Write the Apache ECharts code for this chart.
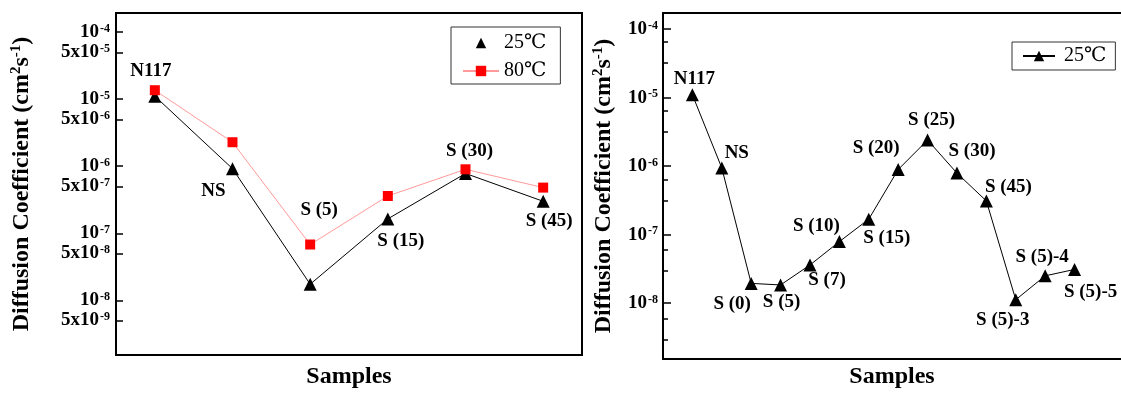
<!DOCTYPE html>
<html>
<head>
<meta charset="utf-8">
<script src="https://cdn.jsdelivr.net/npm/echarts@6/dist/echarts.min.js"></script>
<style>
html,body{margin:0;padding:0;background:#fff;}
#c{width:1121px;height:394px;}
</style>
</head>
<body>
<div id="c"></div>
<script>
// ---------------- DATA ----------------
const leftCategories = ['N117', 'NS', 'S (5)', 'S (15)', 'S (30)', 'S (45)'];
const left25C = [1.11e-5, 9.2e-7, 1.74e-8, 1.64e-7, 7.8e-7, 3.0e-7];
const left80C = [1.36e-5, 2.28e-6, 6.8e-8, 3.6e-7, 9.0e-7, 4.8e-7];

const rightCategories = ['N117', 'NS', 'S (0)', 'S (5)', 'S (7)', 'S (10)', 'S (15)', 'S (20)', 'S (25)', 'S (30)', 'S (45)', 'S (5)-3', 'S (5)-4', 'S (5)-5'];
const right25C = [1.1e-5, 9.4e-7, 1.94e-8, 1.84e-8, 3.6e-8, 7.9e-8, 1.68e-7, 8.9e-7, 2.4e-6, 7.9e-7, 3.1e-7, 1.12e-8, 2.5e-8, 3.1e-8];

const leftTickLabels = [1e-4, 5e-5, 1e-5, 5e-6, 1e-6, 5e-7, 1e-7, 5e-8, 1e-8, 5e-9];
const rightTickLabels = [1e-4, 1e-5, 1e-6, 1e-7, 1e-8];
const rightMinorTicks = [6.67e-5, 3.33e-5, 6.67e-6, 3.33e-6, 6.67e-7, 3.33e-7, 6.67e-8, 3.33e-8, 6.67e-9, 3.33e-9];
const legendNames = ['25℃', '80℃'];
const axisTitleY = 'Diffusion Coefficient (cm{sup|2}s{sup|-1})';
const axisTitleX = 'Samples';

// ---------------- LAYOUT / STYLE ----------------
const SERIF = '"Liberation Serif", "Times New Roman", "DejaVu Serif", serif';
const leftLabelOffsets = [[-4, -25], [-19, 22], [9, -74], [13, 22], [4, -22], [6, 20]];
const rightLabelOffsets = [[2, -16], [15, -15], [-19, 21], [1, 17], [17, 15], [-23, -16], [18, 19], [-22, -21], [4, -20], [15, -22], [22, -14], [-13, 20], [-3, -19], [16, 23]];

const lg = v => Math.log10(v);

function tickFormatter(v) {
  const e = Math.floor(v + 1e-6);
  const m = Math.round(Math.pow(10, v - e));
  const base = m === 1 ? '10' : m + 'x10';
  return '{b|' + base + '}{s|' + e + '}';
}
const tickRich = {
  b: { fontSize: 19, fontWeight: 'bold', fontFamily: SERIF, color: '#000' },
  s: { fontSize: 12, fontWeight: 'bold', fontFamily: SERIF, color: '#000', verticalAlign: 'top', padding: [0, 0, 6, 1] }
};
const nameRich = {
  sup: { fontSize: 15, fontWeight: 'bold', fontFamily: SERIF, color: '#000', padding: [0, 0, 10, 0] }
};
const nameStyle = { fontSize: 24, fontWeight: 'bold', fontFamily: SERIF, color: '#000', rich: nameRich };
const labelStyleBase = { show: true, position: 'inside', fontSize: 19, fontWeight: 'bold', fontFamily: SERIF, color: '#000' };

function labelledData(values, cats, offsets, withIndex) {
  return values.map((v, i) => ({
    value: withIndex ? [i + 1, lg(v)] : lg(v),
    name: cats[i],
    label: Object.assign({}, labelStyleBase, { offset: offsets[i], formatter: cats[i] })
  }));
}

const chart = echarts.init(document.getElementById('c'), null, { renderer: 'canvas' });

const frameLine = { show: true, lineStyle: { color: '#000', width: 2 } };
const hiddenAxis = { axisLine: { show: false }, axisTick: { show: false }, axisLabel: { show: false }, splitLine: { show: false } };

const option = {
  backgroundColor: '#fff',
  animation: false,
  grid: [
    { left: 116, top: 13, width: 466, height: 345.5, show: true, borderColor: '#000', borderWidth: 2, backgroundColor: 'transparent' },
    { left: 663, top: 13, right: 0, height: 350, show: false },
    { left: 663, top: 13, right: 0, height: 350, show: false }
  ],
  xAxis: [
    Object.assign({
      type: 'category', gridIndex: 0, data: leftCategories, boundaryGap: true,
      name: axisTitleX, nameLocation: 'middle', nameGap: 10, nameTextStyle: nameStyle
    }, hiddenAxis, { axisLine: frameLine }),
    Object.assign({
      type: 'value', gridIndex: 1, min: 0, max: 15.58, position: 'bottom',
      name: axisTitleX, nameLocation: 'middle', nameGap: 6, nameTextStyle: nameStyle
    }, hiddenAxis, { axisLine: frameLine }),
    Object.assign({ type: 'value', gridIndex: 1, min: 0, max: 15.58, position: 'top' }, hiddenAxis, { axisLine: frameLine }),
    Object.assign({ type: 'value', gridIndex: 2, min: 0, max: 15.58 }, hiddenAxis)
  ],
  yAxis: [
    {
      type: 'value', gridIndex: 0, min: -8.815, max: -3.715,
      axisLine: frameLine,
      axisTick: { show: true, inside: true, length: 7, lineStyle: { color: '#000', width: 1.5 }, customValues: leftTickLabels.map(lg) },
      axisLabel: { show: true, margin: 6, customValues: leftTickLabels.map(lg), formatter: tickFormatter, rich: tickRich },
      splitLine: { show: false },
      name: axisTitleY, nameLocation: 'middle', nameRotate: 90, nameGap: 82, nameTextStyle: nameStyle
    },
    {
      type: 'value', gridIndex: 1, min: -8.816, max: -3.765, position: 'left',
      axisLine: frameLine,
      axisTick: { show: true, inside: true, length: 8, lineStyle: { color: '#000', width: 1.5 }, customValues: rightTickLabels.map(lg) },
      axisLabel: { show: true, margin: 5, customValues: rightTickLabels.map(lg), formatter: tickFormatter, rich: tickRich },
      splitLine: { show: false },
      name: axisTitleY, nameLocation: 'middle', nameRotate: 90, nameGap: 47, nameTextStyle: nameStyle
    },
    {
      type: 'value', gridIndex: 2, min: -8.816, max: -3.765, position: 'left',
      axisLine: { show: false },
      axisTick: { show: true, inside: true, length: 5, lineStyle: { color: '#000', width: 1.5 }, customValues: rightMinorTicks.map(lg) },
      axisLabel: { show: false },
      splitLine: { show: false }
    }
  ],
  legend: [
    {
      orient: 'vertical', left: 451, top: 27,
      padding: [6, 14, 3, 11], itemGap: 8, itemWidth: 36, itemHeight: 13,
      borderColor: '#333', borderWidth: 1, backgroundColor: '#fff',
      selectedMode: false,
      textStyle: { fontSize: 20, fontFamily: SERIF, color: '#000' },
      data: [
        { name: legendNames[0], lineStyle: { opacity: 0 } },
        { name: legendNames[1] }
      ]
    },
    {
      orient: 'vertical', left: 1012, top: 42,
      padding: [4, 9, 4, 10], itemWidth: 32, itemHeight: 13,
      borderColor: '#333', borderWidth: 1, backgroundColor: '#fff',
      selectedMode: false,
      textStyle: { fontSize: 20, fontFamily: SERIF, color: '#000', padding: [0, 0, 0, 4] },
      data: [legendNames[0]]
    }
  ],
  series: [
    {
      name: legendNames[0], type: 'line', xAxisIndex: 0, yAxisIndex: 0,
      symbol: 'triangle', symbolSize: 13,
      itemStyle: { color: '#000' }, lineStyle: { color: '#000', width: 1 },
      data: labelledData(left25C, leftCategories, leftLabelOffsets, false),
      z: 2
    },
    {
      name: legendNames[1], type: 'line', xAxisIndex: 0, yAxisIndex: 0,
      symbol: 'rect', symbolSize: 10,
      itemStyle: { color: '#ff0000' }, lineStyle: { color: '#ff9a9a', width: 1 },
      data: left80C.map(lg),
      z: 3
    },
    {
      name: legendNames[0], type: 'line', xAxisIndex: 1, yAxisIndex: 1,
      symbol: 'triangle', symbolSize: 13,
      itemStyle: { color: '#000' }, lineStyle: { color: '#000', width: 1 },
      data: labelledData(right25C, rightCategories, rightLabelOffsets, true),
      z: 2
    }
  ]
};
chart.setOption(option);
</script>
</body>
</html>
